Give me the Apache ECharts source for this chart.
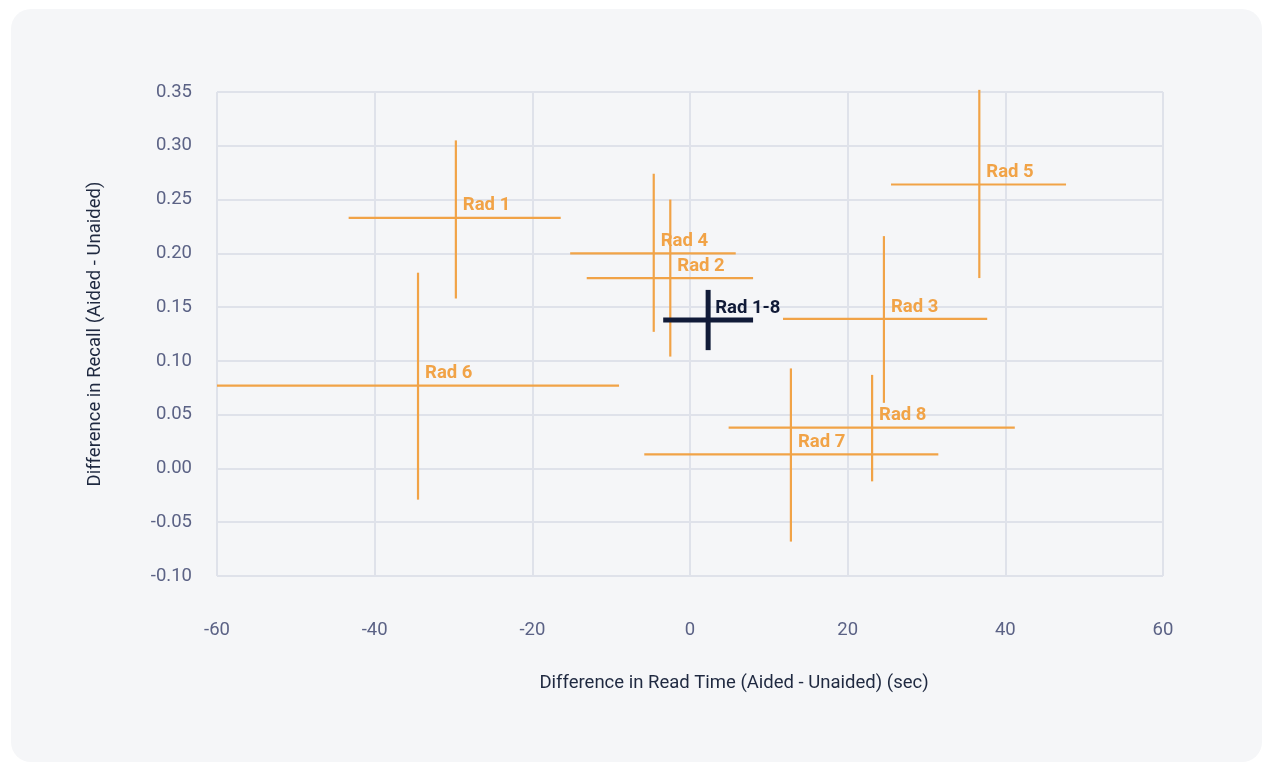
<!DOCTYPE html>
<html>
<head>
<meta charset="utf-8">
<script src="https://cdn.jsdelivr.net/npm/echarts@6/dist/echarts.min.js"></script>
<style>
  html, body { margin: 0; padding: 0; background: #ffffff; }
  #card {
    position: absolute; left: 11px; top: 9px; width: 1251px; height: 753px;
    background: #f5f6f8; border-radius: 20px;
  }
  #chart { position: absolute; left: 0; top: 0; width: 1262px; height: 762px; }
</style>
</head>
<body>
<div id="card"></div>
<div id="chart"></div>
<script>
// readers, mean differences and their intervals
var names = ['Rad 1', 'Rad 2', 'Rad 3', 'Rad 4', 'Rad 5', 'Rad 6', 'Rad 7', 'Rad 8', 'Rad 1-8'];
var timeMean = [-29.7, -2.5, 24.6, -4.6, 36.7, -34.5, 12.8, 23.1, 2.3];
var timeLow = [-43.3, -13.1, 11.8, -15.2, 25.5, -60, -5.8, 4.9, -3.4];
var timeHigh = [-16.4, 8.0, 37.7, 5.8, 47.7, -9.0, 31.5, 41.2, 8.0];
var recallMean = [0.233, 0.177, 0.139, 0.200, 0.264, 0.077, 0.013, 0.038, 0.138];
var recallLow = [0.158, 0.104, 0.061, 0.127, 0.177, -0.029, -0.068, -0.012, 0.110];
var recallHigh = [0.305, 0.250, 0.216, 0.274, 0.352, 0.182, 0.093, 0.087, 0.166];

var orange = '#f1a347';
var navy = '#111b38';

var seriesData = names.map(function (n, i) {
  return [timeMean[i], recallMean[i], timeLow[i], timeHigh[i], recallLow[i], recallHigh[i], i];
});

function renderCross(params, api) {
  var idx = api.value(6);
  var overall = names[idx] === 'Rad 1-8';
  var c = api.coord([api.value(0), api.value(1)]);
  var xl = api.coord([api.value(2), api.value(1)]);
  var xh = api.coord([api.value(3), api.value(1)]);
  var yl = api.coord([api.value(0), api.value(4)]);
  var yh = api.coord([api.value(0), api.value(5)]);
  var color = overall ? navy : orange;
  var w = overall ? 5 : 2.2;
  return {
    type: 'group',
    children: [
      { type: 'line', shape: { x1: xl[0], y1: xl[1], x2: xh[0], y2: xh[1] }, style: { stroke: color, lineWidth: w } },
      { type: 'line', shape: { x1: yl[0], y1: yl[1], x2: yh[0], y2: yh[1] }, style: { stroke: color, lineWidth: w } },
      {
        type: 'text', z2: 10,
        style: {
          x: c[0] + 7, y: c[1] - 12, text: names[idx],
          fill: color, font: 'bold 18.5px Roboto', verticalAlign: 'middle', align: 'left'
        }
      }
    ]
  };
}

var chart = echarts.init(document.getElementById('chart'));
var gridLine = { show: true, lineStyle: { color: '#dfe2ea', width: 2 } };
chart.setOption({
  backgroundColor: 'transparent',
  textStyle: { fontFamily: 'Roboto' },
  grid: { left: 217, top: 92, right: 99, bottom: 186 },
  xAxis: {
    type: 'value', min: -60, max: 60, interval: 20,
    name: 'Difference in Read Time (Aided - Unaided) (sec)',
    nameLocation: 'middle', nameGap: 98,
    nameTextStyle: { color: '#1f2940', fontSize: 18.5, padding: [0, 0, 0, 88] },
    axisLine: { show: false }, axisTick: { show: false },
    axisLabel: { color: '#5b6285', fontSize: 18.5, margin: 45 },
    splitLine: gridLine
  },
  yAxis: {
    type: 'value', min: -0.1, max: 0.35, interval: 0.05,
    name: 'Difference in Recall (Aided - Unaided)',
    nameLocation: 'middle', nameGap: 112,
    nameTextStyle: { color: '#1f2940', fontSize: 18.5 },
    axisLine: { show: false }, axisTick: { show: false },
    axisLabel: {
      color: '#5b6285', fontSize: 18.5, margin: 25,
      formatter: function (v) { return v.toFixed(2); }
    },
    splitLine: gridLine
  },
  series: [{
    type: 'custom',
    renderItem: renderCross,
    clip: false,
    encode: { x: 0, y: 1 },
    data: seriesData
  }]
});
</script>
</body>
</html>
